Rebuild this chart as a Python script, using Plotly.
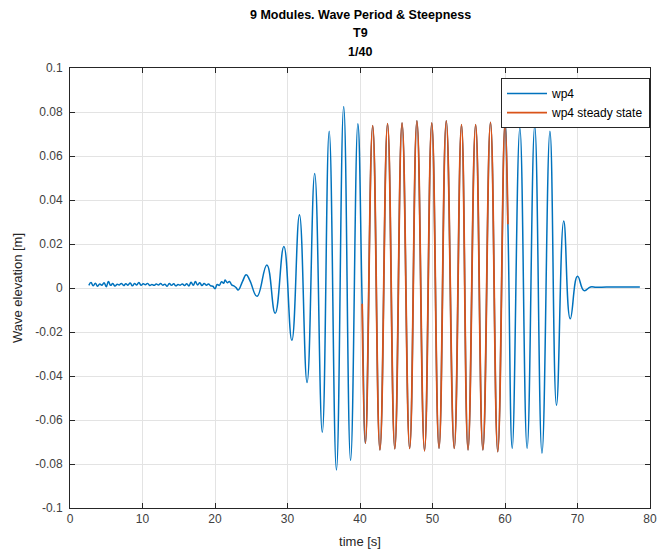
import plotly.graph_objects as go

# ---- data (extrema / samples) ----
time_s = [
    2.6, 2.9, 3.2, 3.5, 3.8, 4.1, 4.4, 4.7, 5.0, 5.3, 5.6, 5.9, 6.2, 6.5, 6.8, 7.1,
    7.4, 7.7, 8.0, 8.3, 8.6, 8.9, 9.2, 9.5, 9.8, 10.1, 10.4, 10.7, 11.0, 11.3, 11.6,
    11.9, 12.2, 12.5, 12.8, 13.1, 13.4, 13.7, 14.0, 14.3, 14.6, 14.9, 15.2, 15.5,
    15.8, 16.1, 16.4, 16.7, 17.0, 17.3, 17.6, 17.9, 18.2, 18.5, 18.8, 19.1, 19.4,
    19.7, 20.0, 20.3, 20.6, 20.9, 21.2, 21.4, 21.7, 22.0, 22.3, 22.6, 22.9, 23.2,
    23.8, 24.3, 24.8, 25.8, 27.15, 28.3, 29.5, 30.6, 31.65, 32.7, 33.75, 34.8,
    35.75, 36.75, 37.75, 38.7, 39.7, 40.3, 40.75, 41.75, 42.75, 43.8, 44.8, 45.8,
    46.85, 47.85, 48.9, 49.9, 50.9, 51.9, 53.0, 54.0, 54.9, 55.95, 56.95, 58.0,
    59.0, 60.0, 60.4, 61.0, 62.05, 63.05, 64.1, 65.1, 66.2, 67.1, 68.1, 69.0,
    70.0, 70.9, 71.8, 72.6, 74.0, 76.0, 78.6,
]
elevation_m = [
    0.0012, 0.0025, 0.0010, 0.0022, 0.0008, 0.0018, 0.0013, 0.0024, 0.0006, 0.0030,
    0.0012, 0.0020, 0.0009, 0.0017, 0.0014, 0.0021, 0.0011, 0.0019, 0.0013, 0.0023,
    0.0010, 0.0020, 0.0014, 0.0025, 0.0012, 0.0019, 0.0015, 0.0021, 0.0011, 0.0016,
    0.0012, 0.0018, 0.0014, 0.0020, 0.0013, 0.0017, 0.0008, 0.0021, 0.0012, 0.0019,
    0.0010, 0.0016, 0.0013, 0.0018, 0.0011, 0.0019, 0.0009, 0.0026, 0.0012, 0.0029,
    0.0014, 0.0024, 0.0011, 0.0020, 0.0013, 0.0018, 0.0010, 0.0008, -0.0003, 0.0016,
    0.0012, 0.0028, 0.0022, 0.0036, 0.0024, 0.0030, 0.0014, 0.0010, 0.0002, -0.0009,
    0.0030, 0.0060, 0.0035, -0.0038, 0.0105, -0.0115, 0.0189, -0.0238, 0.0333, -0.0430,
    0.0520, -0.0656, 0.0712, -0.0827, 0.0825, -0.0784, 0.0747, -0.0072, -0.0706, 0.0738,
    -0.0736, 0.0747, -0.0731, 0.0750, -0.0729, 0.0760, -0.0740, 0.0750, -0.0729, 0.0760,
    -0.0729, 0.0742, -0.0736, 0.0742, -0.0736, 0.0753, -0.0744, 0.0750, 0.0290, -0.0729,
    0.0727, -0.0729, 0.0738, -0.0751, 0.0712, -0.0533, 0.0305, -0.0140, 0.0053, -0.0012,
    0.0005, 0.0003, 0.0004, 0.0004, 0.0004,
]
steady_start_s = 40.3
steady_end_s = 60.4

x_ticks = [0, 10, 20, 30, 40, 50, 60, 70, 80]
y_ticks = [-0.1, -0.08, -0.06, -0.04, -0.02, 0, 0.02, 0.04, 0.06, 0.08, 0.1]
y_tick_labels = ["-0.1", "-0.08", "-0.06", "-0.04", "-0.02", "0",
                 "0.02", "0.04", "0.06", "0.08", "0.1"]
title_lines = ["9 Modules. Wave Period & Steepness", "T9", "1/40"]

steady_t = [t for t in time_s if steady_start_s <= t <= steady_end_s]
steady_v = [v for t, v in zip(time_s, elevation_m) if steady_start_s <= t <= steady_end_s]

FONT = "Liberation Sans, Arial, Helvetica, sans-serif"
AX = "#262626"

fig = go.Figure()
fig.add_trace(go.Scatter(x=time_s, y=elevation_m, mode="lines", name="wp4",
                         line=dict(color="#0072BD", width=1.5, shape="spline", smoothing=1.3)))
fig.add_trace(go.Scatter(x=steady_t, y=steady_v, mode="lines", name="wp4 steady state",
                         line=dict(color="#D95319", width=1.8, shape="spline", smoothing=1.3)))

axis_common = dict(showline=True, linecolor=AX, linewidth=1, mirror="ticks",
                   ticks="inside", ticklen=5, tickcolor=AX, tickwidth=1,
                   showgrid=True, gridcolor="#e3e3e3", gridwidth=1, zeroline=False,
                   tickfont=dict(family=FONT, size=12, color="#404040"))

fig.update_xaxes(range=[0, 80], tickvals=x_ticks,
                 title=dict(text="time [s]", font=dict(family=FONT, size=13, color="#262626"), standoff=11),
                 **axis_common)
fig.update_yaxes(range=[-0.1, 0.1], tickvals=y_ticks, ticktext=y_tick_labels,
                 ticklabelstandoff=4,
                 title=dict(text="Wave elevation [m]", font=dict(family=FONT, size=13, color="#262626"), standoff=9),
                 **axis_common)

for i, (line, ypix) in enumerate(zip(title_lines, [15, 33, 52])):
    fig.add_annotation(text="<b>" + line + "</b>", xref="paper", yref="paper",
                       x=0.5, y=(511 - ypix) / 443, xanchor="center", yanchor="middle",
                       showarrow=False, font=dict(family=FONT, size=12.5, color="black"))

fig.update_layout(
    width=667, height=557,
    margin=dict(l=70, r=10, t=68, b=46),
    plot_bgcolor="white", paper_bgcolor="white",
    showlegend=True,
    legend=dict(x=1.0, y=0.977, xanchor="right", yanchor="top",
                bgcolor="white", bordercolor=AX, borderwidth=1,
                font=dict(family=FONT, size=12, color="black"),
                tracegroupgap=0, itemwidth=40),
)

fig.write_html("out.html")
